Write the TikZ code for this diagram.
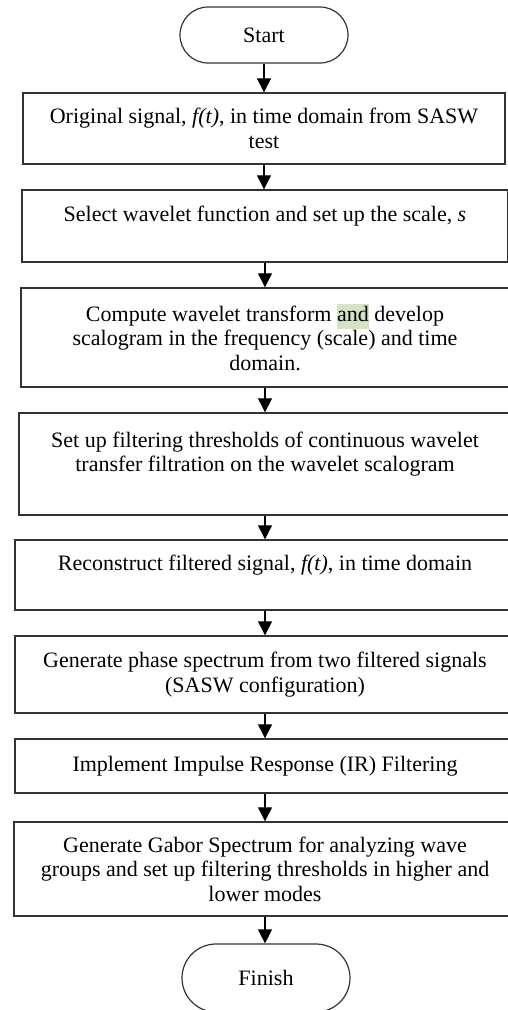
\documentclass[tikz,border=0pt]{standalone}
\usepackage{fontspec}
\setmainfont{Liberation Serif}
\usetikzlibrary{shapes.misc,arrows.meta}
\definecolor{hilite}{RGB}{214,226,196}
\begin{document}
\begin{tikzpicture}[x=1pt, y=-1pt,
	box/.style={draw=black!80, line width=1.4pt, align=center, inner sep=0pt, font=\fontsize{22}{24.5}\selectfont},
	term/.style={draw=black!80, line width=1.2pt, rounded rectangle, inner sep=0pt, minimum width=168pt, font=\fontsize{22}{24.5}\selectfont},
	flow/.style={line width=1.2pt, -{Triangle[length=14pt, width=14pt]}}]
	\useasboundingbox (0,0) rectangle (508,1010);
	\node[term, minimum height=56pt] (start) at (264,35) {Start};
	\node[box, minimum width=482pt, minimum height=71pt] (signal) at (264,128.5) {Original signal, \textit{f(t)}, in time domain from SASW\\test};
	\node[box, minimum width=486pt, minimum height=72pt] (wavelet) at (265,226) {Select wavelet function and set up the scale, \textit{s}\\~};
	\node[box, minimum width=488pt, minimum height=99pt] (transform) at (265,337.5) {Compute wavelet transform {\setlength\fboxsep{0pt}\colorbox{hilite}{\strut and}} develop\\scalogram in the frequency (scale) and time\\domain.};
	\node[box, minimum width=492pt, minimum height=102pt] (threshold) at (265,464) {Set up filtering thresholds of continuous wavelet\\transfer filtration on the wavelet scalogram\\~};
	\node[box, minimum width=500pt, minimum height=70pt] (rebuild) at (265,575) {Reconstruct filtered signal, \textit{f(t)}, in time domain\\~};
	\node[box, minimum width=500pt, minimum height=77pt] (phase) at (265,674.5) {Generate phase spectrum from two filtered signals\\(SASW configuration)};
	\node[box, minimum width=500pt, minimum height=54pt] (impulse) at (265,766) {Implement Impulse Response (IR) Filtering};
	\node[box, minimum width=502pt, minimum height=94pt] (gabor) at (265,869) {Generate Gabor Spectrum for analyzing wave\\groups and set up filtering thresholds in higher and\\lower modes};
	\node[term, minimum height=68pt] (finish) at (266,978) {Finish};
	% arrows down the chart
	\foreach \a/\b in {start/signal, signal/wavelet, wavelet/transform, transform/threshold, threshold/rebuild, rebuild/phase, phase/impulse, impulse/gabor, gabor/finish}
		\draw[flow] (\a.south) -- (\a.south |- \b.north);
\end{tikzpicture}
\end{document}
